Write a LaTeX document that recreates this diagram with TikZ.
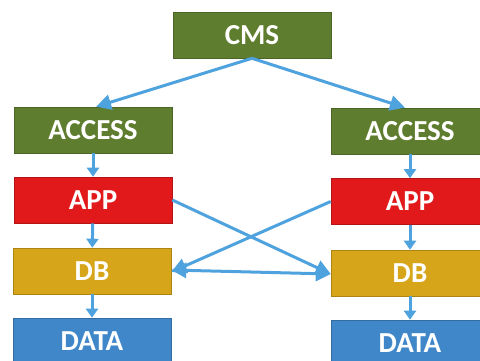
\documentclass[tikz,border=0pt]{standalone}
\usepackage{fontspec}
\setmainfont{Carlito}
\usetikzlibrary{arrows.meta}
\definecolor{boxgreen}{HTML}{5F7D2E}
\definecolor{boxred}{HTML}{E2191B}
\definecolor{boxgold}{HTML}{D6A51A}
\definecolor{boxblue}{HTML}{3F87C9}
\definecolor{linkblue}{HTML}{4EA2DD}
\tikzset{
  tier/.style={minimum width=158pt, minimum height=46pt, inner sep=0pt,
    text=white, font=\fontsize{29}{30}\selectfont\bfseries,
    draw=#1!80!black, line width=0.6pt, fill=#1},
  link/.style={draw=linkblue, line width=3pt,
    -{Triangle[width=12pt,length=9pt]}},
  biglink/.style={draw=linkblue, line width=3pt,
    -{Triangle[width=15pt,length=15pt]}},
  dlink/.style={draw=linkblue, line width=3pt,
    {Triangle[width=15pt,length=15pt]}-{Triangle[width=15pt,length=15pt]}}
}
\begin{document}
\begin{tikzpicture}[x=1pt,y=-1pt]
  \useasboundingbox (0,0) rectangle (480,360);
  \clip (0,0) rectangle (480,360);
  % top node
  \node[tier=boxgreen] (cms) at (252,35) {CMS};
  % left stack
  \node[tier=boxgreen] (accL)  at (93,130) {ACCESS};
  \node[tier=boxred]   (appL)  at (93,200) {APP};
  \node[tier=boxgold]  (dbL)   at (92,271) {DB};
  \node[tier=boxblue]  (dataL) at (92,341) {DATA};
  % right stack
  \node[tier=boxgreen] (accR)  at (410,131) {ACCESS};
  \node[tier=boxred]   (appR)  at (410,201.5) {APP};
  \node[tier=boxgold]  (dbR)   at (410,273) {DB};
  \node[tier=boxblue]  (dataR) at (410,343) {DATA};
  % links from the top
  \draw[biglink] (cms.south) -- ([xshift=3pt]accL.north);
  \draw[biglink] (cms.south) -- ([xshift=-5pt]accR.north);
  % vertical links in each stack
  \draw[link] (accL) -- (appL);
  \draw[link] (appL) -- (dbL);
  \draw[link] (dbL) -- (dataL);
  \draw[link] (accR) -- (appR);
  \draw[link] (appR) -- (dbR);
  \draw[link] (dbR) -- (dataR);
  % crossing links
  \draw[biglink] (appL.east) -- ([yshift=-1pt]dbR.west);
  \draw[biglink] (appR.west) -- ([yshift=-1pt]dbL.east);
  \draw[dlink] ([yshift=1pt]dbL.east) -- ([yshift=-1pt]dbR.west);
\end{tikzpicture}
\end{document}
